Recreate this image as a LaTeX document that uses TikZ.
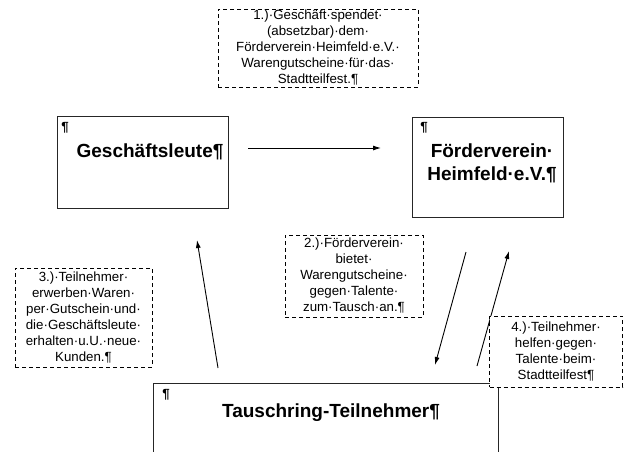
\documentclass[tikz,border=0pt]{standalone}
\usepackage{fontspec}
\setmainfont{Liberation Sans}
\usetikzlibrary{arrows.meta,calc}
\begin{document}
\begin{tikzpicture}[x=1pt,y=-1pt,
  note/.style={draw=black, dash pattern=on 4pt off 3pt, line width=0.9pt, fill=white,
    align=center, inner sep=0pt, font=\fontsize{13.3}{16}\selectfont},
  solidbox/.style={draw=black!85, line width=1pt, inner sep=0pt},
  pilcrow/.style={inner sep=0pt, font=\fontsize{13.3}{16}\bfseries\selectfont},
  titletext/.style={inner sep=0pt, align=center, font=\fontsize{19}{23}\bfseries\selectfont},
  flow/.style={line width=0.9pt, -{Latex[length=8pt,width=5pt]}}
]
\clip (0,0) rectangle (624,451);
\fill[white] (0,0) rectangle (624,451);

% solid boxes
\node[solidbox, minimum width=171, minimum height=92] (gesch) at (142.5,162) {};
\node[pilcrow] (geschp) at (65,128) {¶};
\node[titletext] (gescht) at (150,152) {Geschäftsleute¶};

\node[solidbox, minimum width=151, minimum height=100] (foerd) at (487.5,167) {};
\node[pilcrow] (foerdp) at (424,128) {¶};
\node[titletext] (foerdt) at (492,163.5) {Förderverein·\\Heimfeld·e.V.¶};

\node[solidbox, minimum width=345, minimum height=100] (tausch) at (325.5,433) {};
\node[pilcrow] (tauschp) at (166,395) {¶};
\node[titletext] (tauscht) at (331,413) {Tauschring-Teilnehmer¶};

% arrows
\coordinate (a1s) at (248,148);
\coordinate (a1e) at (381,148);
\coordinate (a2s) at (218,368);
\coordinate (a2e) at (197,240);
\coordinate (a3s) at (466,252);
\coordinate (a3e) at (435,365);
\coordinate (a4s) at (477,366);
\coordinate (a4e) at (509,251);
\draw[flow] (a1s) -- (a1e);
\draw[flow] (a2s) -- (a2e);
\draw[flow] (a3s) -- (a3e);
\draw[flow] (a4s) -- (a4e);

% dashed notes
\node[note, minimum width=200, minimum height=78] (n1) at (318,48)
  {1.)·Geschäft·spendet·\\(absetzbar)·dem·\\Förderverein·Heimfeld·e.V.·\\Warengutscheine·für·das·\\Stadtteilfest.¶};
\node[note, minimum width=138, minimum height=82] (n2) at (354,276)
  {2.)·Förderverein·\\bietet·\\Warengutscheine·\\gegen·Talente·\\zum·Tausch·an.¶};
\node[note, minimum width=137, minimum height=99] (n3) at (83.5,317.5)
  {3.)·Teilnehmer·\\erwerben·Waren·\\per·Gutschein·und·\\die·Geschäftsleute·\\erhalten·u.U.·neue·\\Kunden.¶};
\node[note, minimum width=133, minimum height=71] (n4) at (556,351.5)
  {4.)·Teilnehmer·\\helfen·gegen·\\Talente·beim·\\Stadtteilfest¶};
\end{tikzpicture}
\end{document}
